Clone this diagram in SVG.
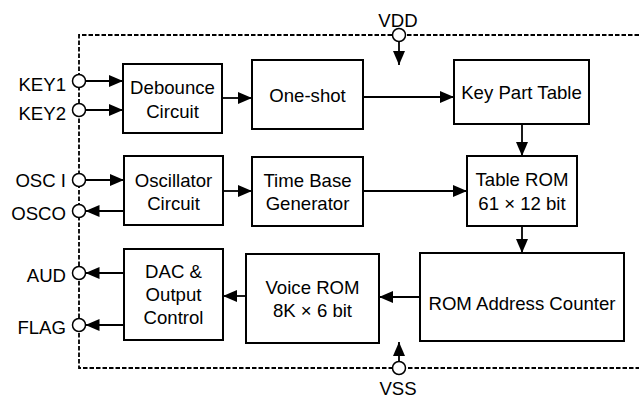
<svg xmlns="http://www.w3.org/2000/svg" width="639" height="399" viewBox="0 0 639 399">
<style>
text{font-family:"Liberation Sans",Arial,sans-serif;font-size:18.6px;fill:#000}
.c{text-anchor:middle}
.e{text-anchor:end}
.box{fill:#fff;stroke:#000;stroke-width:2}
.pin{fill:#fff;stroke:#000;stroke-width:1.5}
.bd{fill:none;stroke:#000;stroke-width:1.8;stroke-dasharray:4.5 2}
.w{fill:none;stroke:#000;stroke-width:1.8;marker-end:url(#ah)}
</style>
<defs>
<marker id="ah" viewBox="0 0 14 12" refX="14" refY="6" markerWidth="14" markerHeight="12" markerUnits="userSpaceOnUse" orient="auto">
<path d="M0,0 L14,6 L0,12 z" fill="#000"/>
</marker>
</defs>
<g id="boundary">
<path class="bd" d="M639,35 H79 V368 H639"/>
</g>
<g id="connectors">
<line class="w" x1="85.5" y1="81" x2="123" y2="81"/>
<line class="w" x1="85.5" y1="110" x2="123" y2="110"/>
<line class="w" x1="222" y1="98" x2="252" y2="98"/>
<line class="w" x1="363" y1="97" x2="454" y2="97"/>
<line class="w" x1="522" y1="124" x2="522" y2="156"/>
<line class="w" x1="85.5" y1="180" x2="124" y2="180"/>
<line class="w" x1="223" y1="191" x2="252" y2="191"/>
<line class="w" x1="363" y1="191" x2="467" y2="191"/>
<line class="w" x1="124" y1="211" x2="85.5" y2="211"/>
<line class="w" x1="522" y1="226" x2="522" y2="253"/>
<line class="w" x1="420" y1="297" x2="379" y2="297"/>
<line class="w" x1="246" y1="296" x2="223" y2="296"/>
<line class="w" x1="124" y1="273" x2="85.5" y2="273"/>
<line class="w" x1="124" y1="325" x2="85.5" y2="325"/>
<line class="w" x1="399" y1="41.5" x2="399" y2="65"/>
<line class="w" x1="399" y1="361.5" x2="399" y2="342"/>
</g>
<g id="pin-key1"><circle class="pin" cx="79" cy="81" r="6.5"/><text class="e" x="66" y="90.5">KEY1</text></g>
<g id="pin-key2"><circle class="pin" cx="79" cy="110" r="6.5"/><text class="e" x="66" y="119.5">KEY2</text></g>
<g id="pin-osci"><circle class="pin" cx="79" cy="180" r="6.5"/><text class="e" x="66" y="187">OSC I</text></g>
<g id="pin-osco"><circle class="pin" cx="79" cy="211" r="6.5"/><text class="e" x="66" y="219.5">OSCO</text></g>
<g id="pin-aud"><circle class="pin" cx="79" cy="273" r="6.5"/><text class="e" x="66" y="282">AUD</text></g>
<g id="pin-flag"><circle class="pin" cx="79" cy="325" r="6.5"/><text class="e" x="66" y="333.5">FLAG</text></g>
<g id="pin-vdd"><circle class="pin" cx="399" cy="35" r="6.5"/><text class="c" x="398" y="27">VDD</text></g>
<g id="pin-vss"><circle class="pin" cx="399" cy="368" r="6.5"/><text class="c" x="398" y="395">VSS</text></g>
<g id="debounce"><rect class="box" x="123" y="64" width="99" height="69"/><text class="c" x="172.5" y="94">Debounce</text><text class="c" x="172.5" y="118">Circuit</text></g>
<g id="oneshot"><rect class="box" x="252" y="60" width="111" height="69"/><text class="c" x="307.5" y="102">One-shot</text></g>
<g id="keyparttable"><rect class="box" x="454" y="60" width="135" height="64"/><text class="c" x="521.5" y="99">Key Part Table</text></g>
<g id="oscillator"><rect class="box" x="124" y="156" width="99" height="69"/><text class="c" x="173.5" y="187">Oscillator</text><text class="c" x="173.5" y="210">Circuit</text></g>
<g id="timebase"><rect class="box" x="252" y="157" width="111" height="69"/><text class="c" x="307.5" y="187">Time Base</text><text class="c" x="307.5" y="210">Generator</text></g>
<g id="tablerom"><rect class="box" x="467" y="156" width="110" height="70"/><text class="c" x="522" y="186">Table ROM</text><text class="c" x="522" y="210">61 × 12 bit</text></g>
<g id="dac"><rect class="box" x="124" y="249" width="99" height="91"/><text class="c" x="173.5" y="278">DAC &amp;</text><text class="c" x="173.5" y="301">Output</text><text class="c" x="173.5" y="324">Control</text></g>
<g id="voicerom"><rect class="box" x="246" y="254" width="133" height="89"/><text class="c" x="312.5" y="294">Voice ROM</text><text class="c" x="312.5" y="317">8K × 6 bit</text></g>
<g id="romaddr"><rect class="box" x="420" y="253" width="204" height="88"/><text class="c" x="522" y="310">ROM Address Counter</text></g>
</svg>
